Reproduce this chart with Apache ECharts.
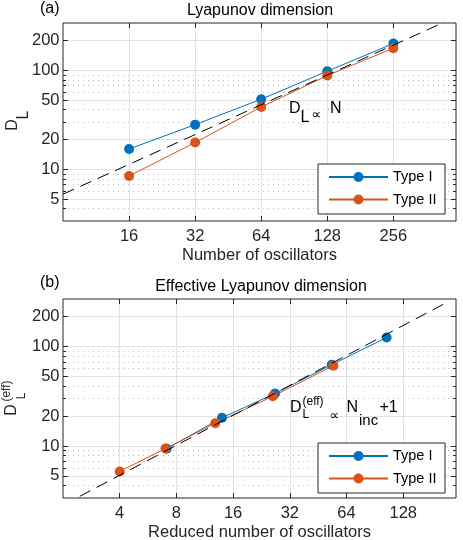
<!DOCTYPE html>
<html>
<head>
<meta charset="utf-8">
<script src="https://cdn.jsdelivr.net/npm/echarts@6/dist/echarts.min.js"></script>
<style>
html, body { margin: 0; background: #fff; }
#main { width: 463px; height: 540px; }
</style>
</head>
<body>
<div id="main"></div>
<script>
// (a) Lyapunov dimension vs number of oscillators
var nOsc = [16, 32, 64, 128, 256];
var dlType1 = [16.0, 28.2, 51, 97.7, 186];
var dlType2 = [8.55, 18.6, 42.6, 88.3, 167];
var fitA = [[8, 5.6], [512, 358.4]];     // D_L ~ N

// (b) effective dimension vs reduced number
var nRed1 = [7.1, 13.96, 26.7, 53.4, 104.5];
var effType1 = [9.4, 19.2, 33.7, 65.6, 123];
var nRed2 = [4, 7.0, 12.86, 26.0, 54.5];
var effType2 = [5.55, 9.42, 16.9, 31.6, 64.1];
var fitB = [[2, 2.54], [213, 270.5]];    // D_L(eff) ~ N_inc+1

var xTicksA = [16, 32, 64, 128, 256];
var xTicksB = [4, 8, 16, 32, 64, 128];
var yTicks = [5, 10, 20, 50, 100, 200];
var yMinor = [4, 6, 7, 8, 9, 30, 40, 60, 70, 80, 90];

var FONT = 'Liberation Sans, DejaVu Sans, sans-serif';
var AX = '#262626';
var blue = '#0072BD', orange = '#D95319';
var FS = 16.5;

function fmt(v) { return String(Math.round(v)); }
function pairs(xs, ys) {
    var out = [];
    for (var i = 0; i < xs.length; i++) out.push([xs[i], ys[i]]);
    return out;
}

function xAxes(gi, min, max, ticks, name) {
    var tick = {show: true, inside: true, length: 5, customValues: ticks, lineStyle: {color: AX}};
    return [{
        type: 'log', logBase: 2, gridIndex: gi, min: min, max: max, position: 'bottom',
        axisLine: {show: false}, axisTick: tick,
        axisLabel: {customValues: ticks, margin: 7, fontFamily: FONT, fontSize: FS, color: AX, formatter: fmt},
        splitLine: {show: true, lineStyle: {color: '#e2e2e2', width: 1}},
        name: name, nameLocation: 'middle', nameGap: 26, nameMoveOverlap: false,
        nameTextStyle: {fontFamily: FONT, fontSize: FS, color: AX}
    }, {
        type: 'log', logBase: 2, gridIndex: gi, min: min, max: max, position: 'top',
        axisLine: {show: false}, axisTick: tick,
        axisLabel: {show: false}, splitLine: {show: false}
    }];
}

// y axes: left major (labels), left minor, right major, right minor
function yAxes(gi) {
    var major = {show: true, inside: true, length: 5, customValues: yTicks, lineStyle: {color: AX}};
    var minor = {show: true, inside: true, length: 3, customValues: yMinor, lineStyle: {color: AX}};
    var base = {type: 'log', logBase: 10, gridIndex: gi, min: 3, max: 300, axisLine: {show: false}};
    return [
        Object.assign({}, base, {position: 'left', axisTick: major,
            axisLabel: {customValues: yTicks, margin: 3.5, fontFamily: FONT, fontSize: FS, color: AX, formatter: fmt},
            splitLine: {show: true, lineStyle: {color: '#e2e2e2', width: 1}}}),
        Object.assign({}, base, {position: 'left', axisTick: minor, axisLabel: {show: false},
            splitLine: {show: true, lineStyle: {color: '#bdbdbd', width: 1, type: [1, 4]}}}),
        Object.assign({}, base, {position: 'right', axisTick: major, axisLabel: {show: false}, splitLine: {show: false}}),
        Object.assign({}, base, {position: 'right', axisTick: minor, axisLabel: {show: false}, splitLine: {show: false}})
    ];
}

function dataSeries(name, color, xi, yi, data) {
    return {
        name: name, type: 'line', xAxisIndex: xi, yAxisIndex: yi, data: data,
        symbol: 'circle', symbolSize: 10, showSymbol: true,
        itemStyle: {color: color}, lineStyle: {color: color, width: 1}, z: 3
    };
}
function fitSeries(xi, yi, data) {
    return {
        type: 'line', xAxisIndex: xi, yAxisIndex: yi, data: data, symbol: 'none', clip: true,
        lineStyle: {color: '#000', width: 1, type: [12, 7]}, z: 4, silent: true
    };
}

function legendAt(top) {
    return {
        orient: 'vertical', left: 318, top: top, data: ['Type I', 'Type II'],
        itemWidth: 59, itemHeight: 12.5, itemGap: 7.5, padding: [5.5, 8.5, 7, 10],
        borderColor: AX, borderWidth: 1, backgroundColor: '#fff', selectedMode: false,
        textStyle: {fontFamily: FONT, fontSize: 14.5, color: '#000'}
    };
}

// plain text piece; rotated ones are centred on (x, y)
function txt(str, x, y, size, rot) {
    return {
        type: 'text', x: x, y: y, rotation: rot || 0, z: 10,
        style: {text: str, fontFamily: FONT, fontSize: size, fill: rot ? AX : '#000',
            textAlign: rot ? 'center' : 'left', textVerticalAlign: 'middle'}
    };
}

var R = Math.PI / 2;
var xa = xAxes(0, 8, 494, xTicksA, 'Number of oscillators')
    .concat(xAxes(1, 2, 244, xTicksB, 'Reduced number of oscillators'));
var ya = yAxes(0).concat(yAxes(1));

var titleStyle = {fontFamily: FONT, fontSize: 16, fontWeight: 'normal', color: '#000'};
var option = {
    animation: false,
    backgroundColor: '#fff',
    title: [
        {text: 'Lyapunov dimension', left: 260, top: 2.5, textAlign: 'center', padding: 0, textStyle: titleStyle},
        {text: 'Effective Lyapunov dimension', left: 261, top: 279, textAlign: 'center', padding: 0, textStyle: titleStyle},
        {text: '(a)', left: 40, top: 0.5, padding: 0, textStyle: titleStyle},
        {text: '(b)', left: 40, top: 274.5, padding: 0, textStyle: titleStyle}
    ],
    grid: [
        {left: 63, top: 23, right: 7, height: 198, show: true, borderColor: AX, borderWidth: 1,
            backgroundColor: '#fff', containLabel: false, outerBoundsMode: 'none'},
        {left: 63, top: 299, right: 7, height: 199, show: true, borderColor: AX, borderWidth: 1,
            backgroundColor: '#fff', containLabel: false, outerBoundsMode: 'none'}
    ],
    xAxis: xa,
    yAxis: ya,
    legend: [legendAt(164), legendAt(443)],
    series: [
        dataSeries('Type I', blue, 0, 0, pairs(nOsc, dlType1)),
        dataSeries('Type II', orange, 0, 0, pairs(nOsc, dlType2)),
        fitSeries(0, 0, fitA),
        dataSeries('Type I', blue, 2, 4, pairs(nRed1, effType1)),
        dataSeries('Type II', orange, 2, 4, pairs(nRed2, effType2)),
        fitSeries(2, 4, fitB)
    ],
    graphic: [
        // y axis label (a): D_L
        txt('D', 12.8, 125, 16, R),
        txt('L', 23.3, 115, 16, R),
        // y axis label (b): D_L^(eff)
        txt('D', 11.2, 410, 16, R),
        txt('(eff)', 6.5, 391, 12, R),
        txt('L', 22, 396, 12, R),
        // annotation (a): D_L ∝ N
        txt('D', 289, 109, 16),
        txt('L', 300.5, 118, 16),
        txt('\u221D', 311.5, 115, 14),
        txt('N', 330, 109, 16),
        // annotation (b): D_L^(eff) ∝ N_inc+1
        txt('D', 290, 408, 16),
        txt('(eff)', 302.5, 401.5, 12),
        txt('L', 302.5, 414.5, 12),
        txt('\u221D', 329.5, 416, 14),
        txt('N', 346.5, 408, 16),
        txt('inc', 359, 420.5, 15),
        txt('+1', 379.5, 408, 16)
    ]
};

var chart = echarts.init(document.getElementById('main'), null, {renderer: 'canvas'});
chart.setOption(option);
</script>
</body>
</html>
